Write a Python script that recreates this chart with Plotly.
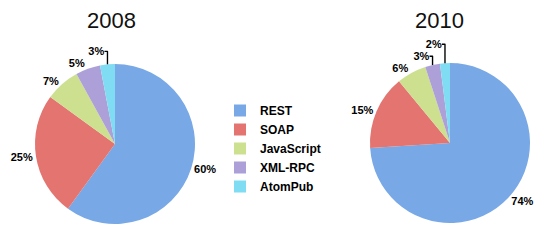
import plotly.graph_objects as go

categories = ["REST", "SOAP", "JavaScript", "XML-RPC", "AtomPub"]
values_2008 = [60, 25, 7, 5, 3]
values_2010 = [74, 15, 6, 3, 2]
titles = ["2008", "2010"]
colors = ["#78a8e6", "#e37470", "#cde08f", "#ad9fd8", "#7fdcf2"]

W, H = 550, 241
FONT = "Liberation Sans, Arial, sans-serif"

def dom(cx, cy, r):
    return dict(x=[(cx - r) / W, (cx + r) / W], y=[1 - (cy + r) / H, 1 - (cy - r) / H])

fig = go.Figure()
for vals, (cx, cy), show in [(values_2008, (115, 144), True), (values_2010, (450, 143), False)]:
    fig.add_trace(go.Pie(
        labels=categories, values=vals, sort=False, direction="clockwise", rotation=0,
        marker=dict(colors=colors, line=dict(width=0)),
        textposition="outside", texttemplate="<b>%{value}%</b>",
        textfont=dict(family=FONT, size=11, color="#000000"),
        outsidetextfont=dict(family=FONT, size=11, color="#000000"),
        domain=dom(cx, cy, 80), showlegend=show, hoverinfo="label+percent",
        automargin=False,
    ))

for t, x in zip(titles, [111, 439]):
    fig.add_annotation(text=t, x=x / W, y=1 - 20 / H, xref="paper", yref="paper",
                       showarrow=False, font=dict(family=FONT, size=22, color="#111"),
                       xanchor="center", yanchor="middle")

fig.update_layout(
    width=W, height=H, margin=dict(l=0, r=0, t=0, b=0),
    paper_bgcolor="white", plot_bgcolor="white",
    legend=dict(x=220 / W, y=1 - 96 / H, xanchor="left", yanchor="top",
                font=dict(family=FONT, size=12, color="#000000", weight="bold"),
                itemwidth=30, tracegroupgap=0, bgcolor="rgba(0,0,0,0)"),
    font=dict(family=FONT, color="#000000"),
)
fig.write_html("out.html")
